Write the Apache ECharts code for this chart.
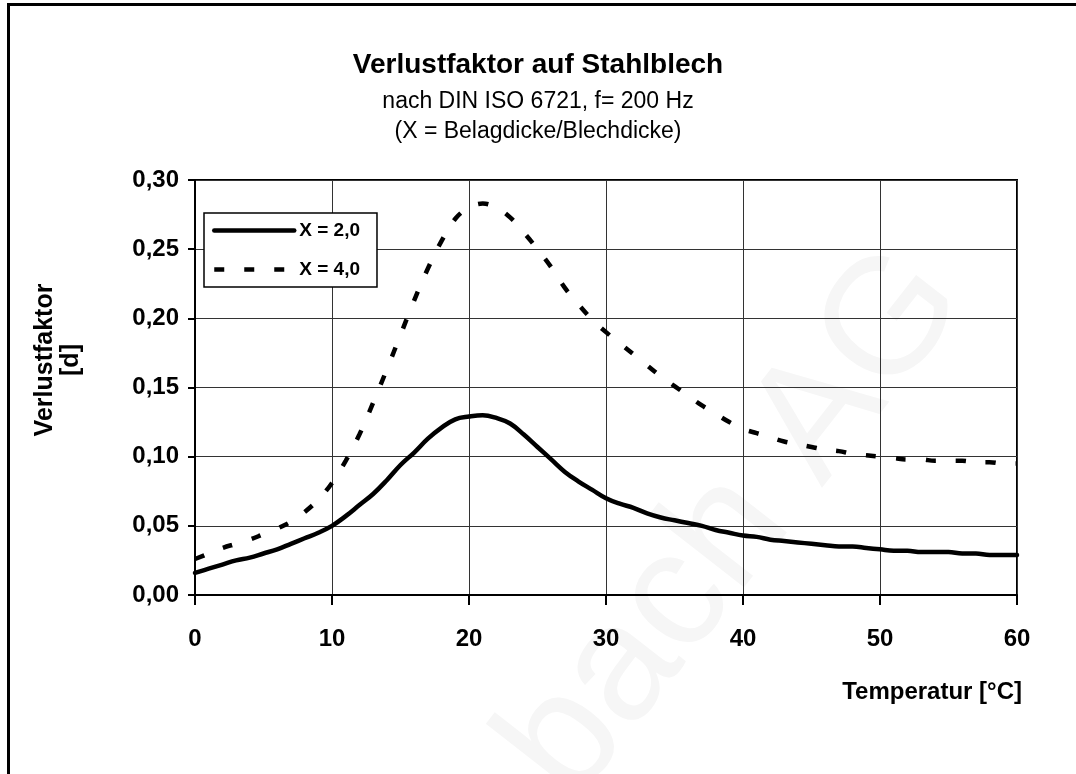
<!DOCTYPE html>
<html>
<head>
<meta charset="utf-8">
<title>Verlustfaktor auf Stahlblech</title>
<script src="https://cdn.jsdelivr.net/npm/echarts@6/dist/echarts.min.js"></script>
<style>
  html, body { margin: 0; padding: 0; background: #fff; }
  #chart { width: 1076px; height: 774px; }
</style>
</head>
<body>
<div id="chart"></div>
<script>
// Temperatur [°C]
const temps = [
  0, 1, 2, 3, 4, 5, 6, 7, 8, 9,
  10, 11, 12, 13, 14, 15, 16, 17, 18, 19,
  20, 21, 22, 23, 24, 25, 26, 27, 28, 29,
  30, 31, 32, 33, 34, 35, 36, 37, 38, 39,
  40, 41, 42, 43, 44, 45, 46, 47, 48, 49,
  50, 51, 52, 53, 54, 55, 56, 57, 58, 59, 60
]

// X = 2,0
const lossX2 = [
  0.016, 0.019, 0.022, 0.025, 0.027, 0.030, 0.033, 0.037, 0.041, 0.045,
  0.050, 0.057, 0.065, 0.073, 0.083, 0.094, 0.103, 0.113, 0.121, 0.127,
  0.129, 0.130, 0.128, 0.124, 0.116, 0.107, 0.098, 0.089, 0.082, 0.076,
  0.070, 0.066, 0.063, 0.059, 0.056, 0.054, 0.052, 0.050, 0.047, 0.045,
  0.043, 0.042, 0.040, 0.039, 0.038, 0.037, 0.036, 0.035, 0.035, 0.034,
  0.033, 0.032, 0.032, 0.031, 0.031, 0.031, 0.030, 0.030, 0.029, 0.029, 0.029
]

// X = 4,0
const lossX4 = [
  0.026, 0.030, 0.034, 0.037, 0.040, 0.044, 0.048, 0.053, 0.060, 0.069,
  0.081, 0.097, 0.116, 0.139, 0.163, 0.188, 0.213, 0.236, 0.256, 0.272,
  0.280, 0.283, 0.280, 0.273, 0.262, 0.250, 0.237, 0.222, 0.210, 0.199,
  0.190, 0.182, 0.174, 0.166, 0.158, 0.151, 0.144, 0.137, 0.131, 0.125,
  0.120, 0.117, 0.114, 0.111, 0.109, 0.107, 0.105, 0.104, 0.102, 0.101,
  0.100, 0.099, 0.098, 0.098, 0.097, 0.097, 0.097, 0.096, 0.096, 0.095, 0.095
]

const seriesNames = ['X = 2,0', 'X = 4,0']

const font = "'Liberation Sans', Arial, sans-serif"
const chart = echarts.init(document.getElementById('chart'))

chart.setOption({
  animation: false,
  backgroundColor: '#fff',
  title: [
    {
      text: 'Verlustfaktor auf Stahlblech',
      left: 'center',
      top: 46,
      textStyle: { fontFamily: font, fontSize: 28, fontWeight: 'bold', color: '#000' },
    },
    {
      text: 'nach DIN ISO 6721, f= 200 Hz\n(X = Belagdicke/Blechdicke)',
      left: 'center',
      top: 82,
      textStyle: { fontFamily: font, fontSize: 23, fontWeight: 'normal', lineHeight: 30, color: '#000' },
    },
  ],
  legend: {
    orient: 'vertical',
    left: 204,
    top: 213,
    padding: [8, 17, 8, 8],
    itemGap: 20,
    itemWidth: 80,
    itemHeight: 18,
    borderColor: '#000',
    borderWidth: 1.5,
    backgroundColor: '#fff',
    data: seriesNames,
    itemStyle: { opacity: 0 },
    lineStyle: { width: 4.5 },
    textStyle: { fontFamily: font, fontSize: 19, fontWeight: 'bold', color: '#000' },
  },
  grid: {
    left: 195,
    right: 59,
    top: 180,
    bottom: 179,
    show: true,
    borderColor: '#000',
    borderWidth: 2,
  },
  xAxis: {
    type: 'value',
    min: 0,
    max: 60,
    interval: 10,
    axisLine: { lineStyle: { color: '#000', width: 2 } },
    axisTick: { length: 10, lineStyle: { color: '#000', width: 2 } },
    axisLabel: { margin: 32, fontFamily: font, fontSize: 24, fontWeight: 'bold', color: '#000' },
    splitLine: { show: true, lineStyle: { color: '#333', width: 1 } },
  },
  yAxis: {
    type: 'value',
    min: 0,
    max: 0.3,
    interval: 0.05,
    axisLine: { show: true, lineStyle: { color: '#000', width: 2 } },
    axisTick: { show: true, length: 7, lineStyle: { color: '#000', width: 2 } },
    axisLabel: {
      margin: 16,
      fontFamily: font,
      fontSize: 24,
      fontWeight: 'bold',
      color: '#000',
      formatter: (value) => value.toFixed(2).replace('.', ','),
    },
    splitLine: { show: true, lineStyle: { color: '#333', width: 1 } },
  },
  graphic: [
    {
      type: 'text',
      z: -10,
      silent: true,
      x: 735,
      y: 525,
      rotation: 52 * Math.PI / 180,
      style: {
        text: 'bach AG',
        fontFamily: font,
        fontSize: 165,
        fill: '#f6f6f6',
        align: 'center',
        verticalAlign: 'middle',
      },
    },
    {
      type: 'line',
      silent: true,
      shape: { x1: 7, y1: 4.5, x2: 1076, y2: 4.5 },
      style: { stroke: '#000', lineWidth: 3 },
    },
    {
      type: 'line',
      silent: true,
      shape: { x1: 8.5, y1: 3, x2: 8.5, y2: 774 },
      style: { stroke: '#000', lineWidth: 3 },
    },
    {
      type: 'text',
      x: 58,
      y: 360,
      rotation: Math.PI / 2,
      style: {
        text: 'Verlustfaktor\n[d]',
        fontFamily: font,
        fontSize: 25,
        fontWeight: 'bold',
        lineHeight: 26,
        fill: '#000',
        align: 'center',
        verticalAlign: 'middle',
      },
    },
    {
      type: 'text',
      x: 1022,
      y: 692,
      style: {
        text: 'Temperatur [°C]',
        fontFamily: font,
        fontSize: 24,
        fontWeight: 'bold',
        fill: '#000',
        align: 'right',
        verticalAlign: 'middle',
      },
    },
  ],
  series: [
    {
      name: seriesNames[0],
      type: 'line',
      data: temps.map((t, i) => [t, lossX2[i]]),
      smooth: 0.4,
      showSymbol: false,
      symbol: 'none',
      lineStyle: { color: '#000', width: 4.5, cap: 'round', join: 'round' },
      itemStyle: { color: '#000' },
    },
    {
      name: seriesNames[1],
      type: 'line',
      data: temps.map((t, i) => [t, lossX4[i]]),
      smooth: 0.4,
      showSymbol: false,
      symbol: 'none',
      lineStyle: { color: '#000', width: 4.5, type: [10, 20], cap: 'butt' },
      itemStyle: { color: '#000' },
    },
  ],
})
</script>
</body>
</html>
